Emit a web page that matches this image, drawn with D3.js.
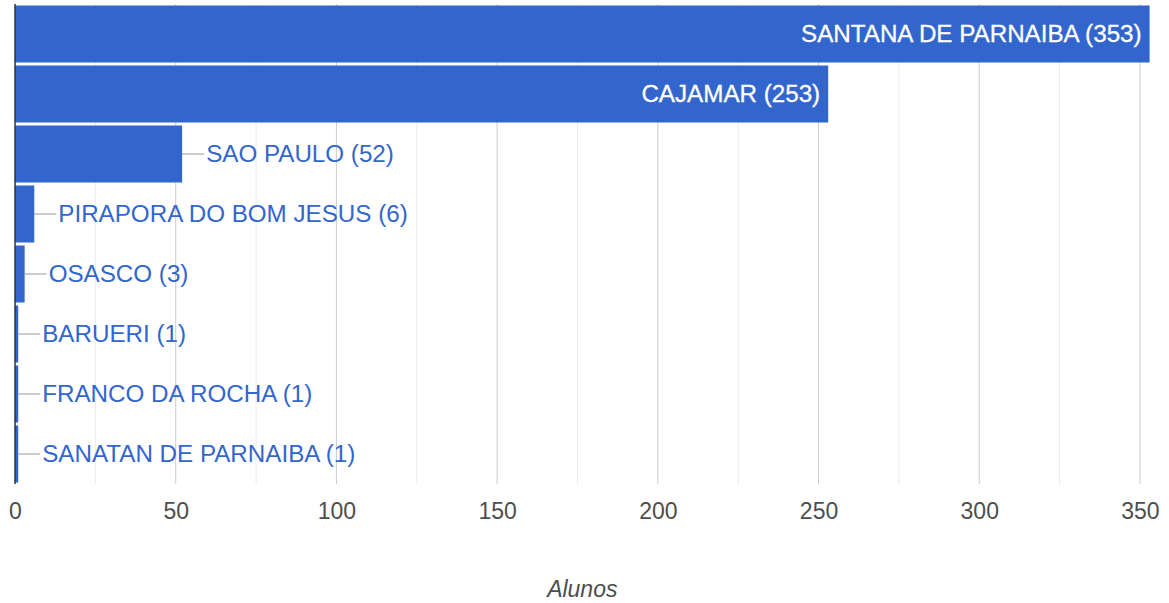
<!DOCTYPE html>
<html>
<head>
<meta charset="utf-8">
<script src="https://cdn.jsdelivr.net/npm/d3@7"></script>
<style>
  body { margin: 0; background: #fff; }
  svg { display: block; font-family: Arial, "Liberation Sans", sans-serif; }
</style>
</head>
<body>
<div class="chart"></div>
<script>
// Data
var cities = ["SANTANA DE PARNAIBA", "CAJAMAR", "SAO PAULO", "PIRAPORA DO BOM JESUS",
  "OSASCO", "BARUERI", "FRANCO DA ROCHA", "SANATAN DE PARNAIBA"];
var alunos = [353, 253, 52, 6, 3, 1, 1, 1];
var majorTicks = [0, 50, 100, 150, 200, 250, 300, 350];
var minorTicks = [25, 75, 125, 175, 225, 275, 325];
var axisTitle = "Alunos";

var data = cities.map(function (c, i) { return { city: c, value: alunos[i] }; });

// SVG area
var svgWidth = 1169;
var svgHeight = 603;

var svg = d3.select(".chart")
  .append("svg")
  .attr("width", svgWidth)
  .attr("height", svgHeight);

var xScale = d3.scaleLinear()
  .domain([0, 353])
  .range([15, 1149.6]);

var yBand = d3.scaleBand()
  .domain(cities)
  .range([4, 484])
  .paddingInner(0.05)
  .paddingOuter(0.025);

// gridlines
svg.append("g").selectAll("line")
  .data(minorTicks)
  .enter()
  .append("line")
  .attr("x1", d => xScale(d)).attr("x2", d => xScale(d))
  .attr("y1", 4).attr("y2", 484)
  .attr("stroke", "#ebebeb").attr("stroke-width", 1);

svg.append("g").selectAll("line")
  .data(majorTicks.slice(1))
  .enter()
  .append("line")
  .attr("x1", d => xScale(d)).attr("x2", d => xScale(d))
  .attr("y1", 4).attr("y2", 484)
  .attr("stroke", "#cccccc").attr("stroke-width", 1);

// bottom axis (labels only)
var bottomAxis = d3.axisBottom(xScale)
  .tickValues(majorTicks)
  .tickSize(0)
  .tickPadding(0);

var axisG = svg.append("g")
  .attr("transform", "translate(0, 511)")
  .call(bottomAxis);
axisG.select(".domain").remove();
axisG.selectAll("text")
  .attr("dy", "0.35em")
  .style("font-size", "23px")
  .style("font-family", "Arial, 'Liberation Sans', sans-serif")
  .attr("fill", "#4d4d4d");

// bars
svg.selectAll(".bar")
  .data(data)
  .enter()
  .append("rect")
  .attr("class", "bar")
  .attr("x", xScale(0))
  .attr("y", d => yBand(d.city))
  .attr("width", d => xScale(d.value) - xScale(0))
  .attr("height", yBand.bandwidth())
  .attr("fill", "#3366cc");

// baseline
svg.append("line")
  .attr("x1", xScale(0)).attr("x2", xScale(0))
  .attr("y1", 4).attr("y2", 484)
  .attr("stroke", "#333333").attr("stroke-width", 1.5);

// labels
var inside = data.filter(d => d.value > 100);
var outside = data.filter(d => d.value <= 100);

svg.selectAll(".inLabel")
  .data(inside)
  .enter()
  .append("text")
  .attr("class", "inLabel")
  .attr("x", d => xScale(d.value) - 8)
  .attr("y", d => yBand(d.city) + yBand.bandwidth() / 2)
  .attr("dy", "0.35em")
  .attr("text-anchor", "end")
  .attr("fill", "#ffffff")
  .style("font-size", "24.2px")
  .style("stroke", "#ffffff")
  .style("stroke-width", "0.3px")
  .text(d => d.city + " (" + d.value + ")");

svg.selectAll(".leader")
  .data(outside)
  .enter()
  .append("line")
  .attr("class", "leader")
  .attr("x1", d => xScale(d.value))
  .attr("x2", d => xScale(d.value) + 22)
  .attr("y1", d => yBand(d.city) + yBand.bandwidth() / 2)
  .attr("y2", d => yBand(d.city) + yBand.bandwidth() / 2)
  .attr("stroke", "#999999").attr("stroke-width", 1);

svg.selectAll(".outLabel")
  .data(outside)
  .enter()
  .append("text")
  .attr("class", "outLabel")
  .attr("x", d => xScale(d.value) + 24)
  .attr("y", d => yBand(d.city) + yBand.bandwidth() / 2)
  .attr("dy", "0.35em")
  .attr("fill", "#3366cc")
  .style("font-size", "24.2px")
  .text(d => d.city + " (" + d.value + ")");

// axis title
svg.append("text")
  .attr("x", (xScale(0) + xScale(353)) / 2)
  .attr("y", 589)
  .attr("dy", "0.35em")
  .attr("text-anchor", "middle")
  .attr("fill", "#4d4d4d")
  .style("font-size", "23px")
  .style("font-style", "italic")
  .text(axisTitle);
</script>
</body>
</html>
